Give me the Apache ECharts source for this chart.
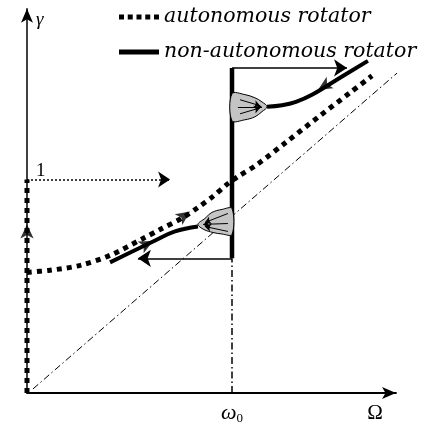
<!DOCTYPE html>
<html><head><meta charset="utf-8">
<script src="https://cdn.jsdelivr.net/npm/echarts@6/dist/echarts.min.js"></script>
<style>html,body{margin:0;padding:0;background:#fff}#c{width:432px;height:425px}</style>
</head><body><div id="c"></div>
<script>
// ---- data (Ω in units of ω0, γ in units of the level "1") ----
const legendNames = ['autonomous rotator', 'non-autonomous rotator'];
const xLabelValues = [1, 1.698];
const xLabelTexts = ['{w|ω}{s|0}', '{o|Ω}'];
const yLabelValues = [1];
const yLabelTexts = ['1'];
const yAxisName = 'γ';

const autonomousCurve = [[0,0.565],[0.112,0.575],[0.259,0.598],[0.405,0.645],[0.566,0.724],[0.649,0.766],[0.761,0.822],[0.834,0.869],[0.907,0.921],[0.980,0.981],[1.029,1.014],[1.122,1.070],[1.268,1.178],[1.429,1.299],[1.576,1.407],[1.683,1.486]];
const autonomousAxisPart = [[0,0],[0,1]];
const nonAutoUpper = [[1.663,1.556],[1.527,1.477],[1.390,1.397],[1.312,1.364],[1.244,1.348],[1.171,1.341]];
const nonAutoJump = [[1,0.631],[1,1.523]];
const nonAutoLower = [[0.405,0.612],[0.615,0.710],[0.722,0.757],[0.834,0.780]];
const diagonal = [[0.029,0.019],[1.834,1.523]];
const omega0Guide = [[1,0],[1,0.631]];
const jumpArrows = [[[1,1.523],[1.561,1.523]], [[1,0.631],[0.541,0.631]]];
const levelOneArrow = [[0,1],[0.698,1]];
const upperLobe = [[1,1.402],[1.063,1.398],[1.112,1.383],[1.146,1.364],[1.171,1.341],[1.146,1.318],[1.112,1.294],[1.063,1.280],[1,1.276]];
const lowerLobe = [[1,0.864],[0.951,0.860],[0.902,0.846],[0.868,0.818],[0.834,0.790],[0.863,0.766],[0.907,0.752],[0.951,0.745],[1,0.743]];
const lobeFlows = [
  [[1.039,1.374],[1.137,1.346]], [[1.029,1.341],[1.146,1.341]], [[1.039,1.308],[1.137,1.336]],
  [[0.980,0.841],[0.868,0.799]], [[0.980,0.794],[0.859,0.790]], [[0.980,0.757],[0.868,0.780]]
];
// arrowheads on curves: [x, y, direction in degrees]
const curveArrowheads = [[0.795,0.850,-55],[0.615,0.712,-63],[1.420,1.421,121],[0,0.790,0]];

const chart = echarts.init(document.getElementById('c'), null, {renderer:'canvas'});
const serif = 'Liberation Serif';
const K = '#000';
const dottedIcon = 'path://M0 0h5v5H0z M8.75 0h5v5h-5z M17.5 0h5v5h-5z M26.25 0h5v5h-5z M35 0h5v5h-5z';

chart.setOption({
  animation: false,
  backgroundColor: '#fff',
  color: [K],
  grid: {left: 27, width: 369, top: 8.8, height: 385.2},
  legend: {
    data: [{name: legendNames[0], icon: dottedIcon}, {name: legendNames[1], icon: 'rect'}],
    orient: 'vertical', left: 114, top: 0,
    itemWidth: 40, itemHeight: 5, itemGap: 11, selectedMode: false,
    itemStyle: {color: K, borderWidth: 0},
    textStyle: {fontFamily: 'DejaVu Serif', fontStyle: 'italic', fontSize: 20.5, color: K, lineHeight: 24}
  },
  xAxis: {
    type: 'value', min: 0, max: 1.8,
    splitLine: {show: false}, axisTick: {show: false},
    axisLine: {show: true, onZero: false, symbol: ['none','arrow'], symbolSize: [9,14], lineStyle: {color: K, width: 1.8}},
    axisLabel: {
      customValues: xLabelValues, margin: 8, color: K,
      formatter: v => xLabelTexts[xLabelValues.indexOf(v)],
      rich: {
        w: {fontFamily: serif, fontStyle: 'italic', fontSize: 22, color: K, lineHeight: 24},
        s: {fontFamily: serif, fontSize: 13, color: K, lineHeight: 24, verticalAlign: 'bottom', padding: [10,0,0,0]},
        o: {fontFamily: serif, fontSize: 21, color: K, lineHeight: 24}
      }
    }
  },
  yAxis: {
    type: 'value', min: 0, max: 1.8,
    splitLine: {show: false}, axisTick: {show: false},
    axisLine: {show: true, onZero: false, symbol: ['none','arrow'], symbolSize: [9,14], lineStyle: {color: K, width: 1.5}},
    name: yAxisName, nameLocation: 'end', nameGap: -2,
    nameTextStyle: {fontFamily: serif, fontStyle: 'italic', fontSize: 19, color: K, align: 'left', verticalAlign: 'top', padding: [0,0,0,9]},
    axisLabel: {
      customValues: yLabelValues, inside: true, margin: 9, color: K,
      fontFamily: serif, fontSize: 19, verticalAlign: 'bottom', padding: [0,0,-1,0],
      formatter: v => yLabelTexts[yLabelValues.indexOf(v)]
    }
  },
  series: [
    {type: 'line', data: diagonal, symbol: 'none', clip: false, silent: true, z: 1,
     lineStyle: {color: K, width: 1, type: [7,3,1.5,3]}},
    {type: 'line', data: omega0Guide, symbol: 'none', silent: true, z: 1,
     lineStyle: {color: K, width: 1.5, type: [7,3,1.5,3]}},
    {type: 'lines', coordinateSystem: 'cartesian2d', silent: true, z: 2,
     data: [{coords: levelOneArrow}], symbol: ['none','arrow'], symbolSize: 12,
     lineStyle: {color: K, width: 1.5, type: [2,2], opacity: 1}},
    {type: 'lines', coordinateSystem: 'cartesian2d', silent: true, z: 2,
     data: jumpArrows.map(c => ({coords: c})), symbol: ['none','arrow'], symbolSize: 13,
     lineStyle: {color: K, width: 1.5, opacity: 1}},
    {name: legendNames[0], type: 'line', data: autonomousCurve, symbol: 'none', smooth: 0.3, z: 3,
     itemStyle: {color: K},
     lineStyle: {color: K, width: 5, type: [5,5], cap: 'butt'}},
    {name: legendNames[0], type: 'line', data: autonomousAxisPart, symbol: 'none', z: 3,
     itemStyle: {color: K},
     lineStyle: {color: K, width: 5, type: [5,5], cap: 'butt'}},
    {name: legendNames[1], type: 'line', data: nonAutoUpper, symbol: 'none', smooth: 0.4, z: 4,
     itemStyle: {color: K},
     lineStyle: {color: K, width: 4}},
    {name: legendNames[1], type: 'line', data: nonAutoJump, symbol: 'none', z: 4,
     itemStyle: {color: K},
     lineStyle: {color: K, width: 4.5}},
    {name: legendNames[1], type: 'line', data: nonAutoLower, symbol: 'none', smooth: 0.4, z: 4,
     itemStyle: {color: K},
     lineStyle: {color: K, width: 4}},
    {type: 'custom', z: 5, silent: true, data: [0, 1],
     renderItem: (params, api) => {
       const pts = (params.dataIndex === 0 ? upperLobe : lowerLobe).map(p => api.coord(p));
       return {type: 'polygon', shape: {points: pts, smooth: 0.35},
               style: {fill: '#c4c4c4', stroke: K, lineWidth: 1}};
     }},
    {type: 'lines', coordinateSystem: 'cartesian2d', silent: true, z: 6,
     data: lobeFlows.map(c => ({coords: c})), symbol: ['none','arrow'], symbolSize: 6,
     lineStyle: {color: K, width: 1, opacity: 1}},
    {type: 'scatter', silent: true, z: 7, symbol: 'arrow', symbolSize: [10,14],
     itemStyle: {color: K},
     data: curveArrowheads.map(a => ({value: [a[0], a[1]], symbolRotate: a[2]}))}
  ]
});
</script></body></html>
